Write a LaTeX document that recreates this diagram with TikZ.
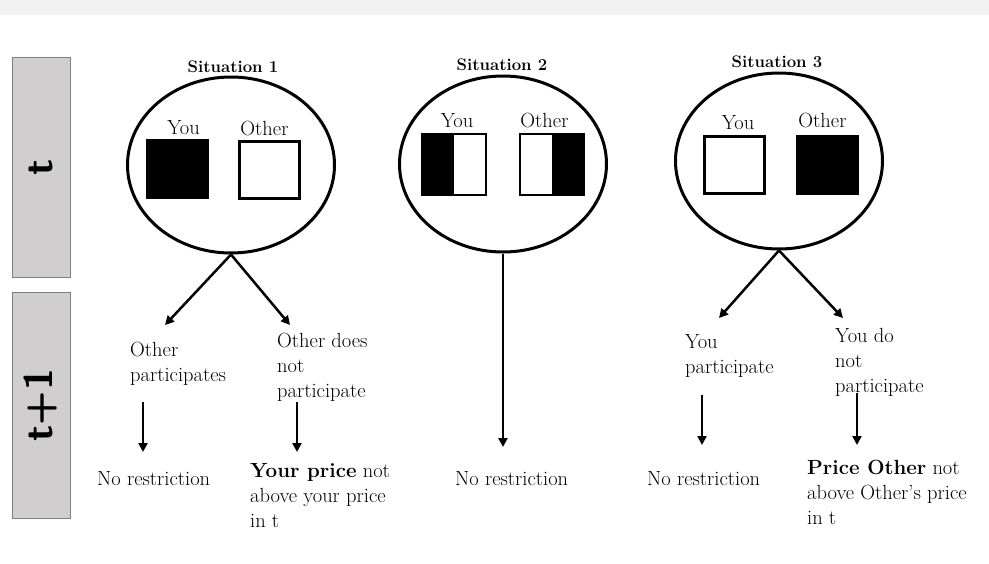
\documentclass[tikz,border=0pt]{standalone}
\usepackage{fontspec}
\usetikzlibrary{arrows.meta,positioning,shapes.geometric}
\definecolor{bandgray}{HTML}{F2F2F2}
\definecolor{phasegray}{HTML}{D0CECF}
\definecolor{phaseline}{HTML}{7F7F7F}

\begin{document}
\begin{tikzpicture}[
  x=1pt, y=-1pt,
  font=\fontsize{20.5}{25}\selectfont,
  phasebox/.style={rectangle, draw=phaseline, fill=phasegray, line width=1pt, rotate=90,
    inner sep=0pt, font=\sffamily\bfseries\fontsize{40}{40}\selectfont},
  sittitle/.style={anchor=base, inner sep=0pt, font=\bfseries\fontsize{16.7}{19}\selectfont},
  situation/.style={ellipse, draw, line width=3pt, minimum width=207pt,
    minimum height=176pt, inner sep=0pt},
  fullsq/.style={rectangle, draw, line width=3pt, minimum width=60pt,
    minimum height=57pt, inner sep=0pt},
  halfsq/.style={rectangle, draw, line width=2pt, minimum width=64pt,
    minimum height=61pt, inner sep=0pt},
  blackleft/.style={path picture={\fill (path picture bounding box.south west)
    rectangle (path picture bounding box.north);}},
  blackright/.style={path picture={\fill (path picture bounding box.south east)
    rectangle (path picture bounding box.north);}},
  who/.style={inner sep=0pt},
  choice/.style={anchor=base west, align=left, inner sep=0pt},
  arrow/.style={-{Triangle[length=9pt,width=9pt]}, line width=2.5pt}
]
\useasboundingbox (0,0) rectangle (989,563);
\fill[bandgray] (0,0) rectangle (989,15);

\node[phasebox, minimum width=220pt, minimum height=58pt] (p1) at (41,167) {t};
\node[phasebox, minimum width=226pt, minimum height=58pt] (p2) at (41,405) {t+1};

\node[sittitle] (t1) at (233,72) {Situation 1};
\node[sittitle] (t2) at (502,70) {Situation 2};
\node[sittitle] (t3) at (777,67) {Situation 3};

\node[situation] (e1) at (231,165) {};
\node[situation] (e2) at (503,164) {};
\node[situation] (e3) at (779,161) {};

\node[fullsq, fill=black] (q1a) at (177.5,169) {};
\node[fullsq] (q1b) at (269.5,170) {};
\node[halfsq, blackleft] (q2a) at (454,164.5) {};
\node[halfsq, blackright] (q2b) at (551.5,164.5) {};
\node[fullsq] (q3a) at (734,165) {};
\node[fullsq, fill=black] (q3b) at (827.5,164.5) {};

\node[who, above=4pt of q1a, xshift=6pt] (y1) {You};
\node[who, above=4pt of q1b, xshift=-5pt] (o1) {Other};
\node[who, above=5pt of q2a, xshift=3pt] (y2) {You};
\node[who, above=5pt of q2b, xshift=-7pt] (o2) {Other};
\node[who, above=5pt of q3a, xshift=4pt] (y3) {You};
\node[who, above=6pt of q3b, xshift=-5pt] (o3) {Other};

\coordinate (a1a) at (165,325);
\coordinate (a1b) at (290,325);
\coordinate (a2) at (503,447);
\coordinate (a3a) at (719,318);
\coordinate (a3b) at (843,318);

\draw[arrow] (e1.south) -- (a1a);
\draw[arrow] (e1.south) -- (a1b);
\draw[arrow] (e2.south) -- (a2);
\draw[arrow] (e3.south) -- (a3a);
\draw[arrow] (e3.south) -- (a3b);

\node[choice] (c1a) at (130,381) {Other\\participates};
\node[choice] (c1b) at (277,397) {Other does\\not\\participate};
\node[choice] (c3a) at (685,373) {You\\participate};
\node[choice] (c3b) at (835,392) {You do\\not\\participate};

\node[choice] (r1a) at (97,485) {No restriction};
\node[choice] (r1b) at (250,527) {\textbf{Your price} not\\above your price\\in t};
\node[choice] (r2) at (455,485) {No restriction};
\node[choice] (r3a) at (647,485) {No restriction};
\node[choice] (r3b) at (807,524) {\textbf{Price Other} not\\above Other's price\\in t};

\coordinate (d1a) at (143,402);
\coordinate (f1a) at (143,452);
\coordinate (d1b) at (297,402);
\coordinate (f1b) at (297,452);
\coordinate (d3a) at (702,395);
\coordinate (f3a) at (702,445);
\coordinate (d3b) at (857,393);
\coordinate (f3b) at (857,445);

\draw[arrow] (d1a) -- (f1a);
\draw[arrow] (d1b) -- (f1b);
\draw[arrow] (d3a) -- (f3a);
\draw[arrow] (d3b) -- (f3b);
\end{tikzpicture}
\end{document}
